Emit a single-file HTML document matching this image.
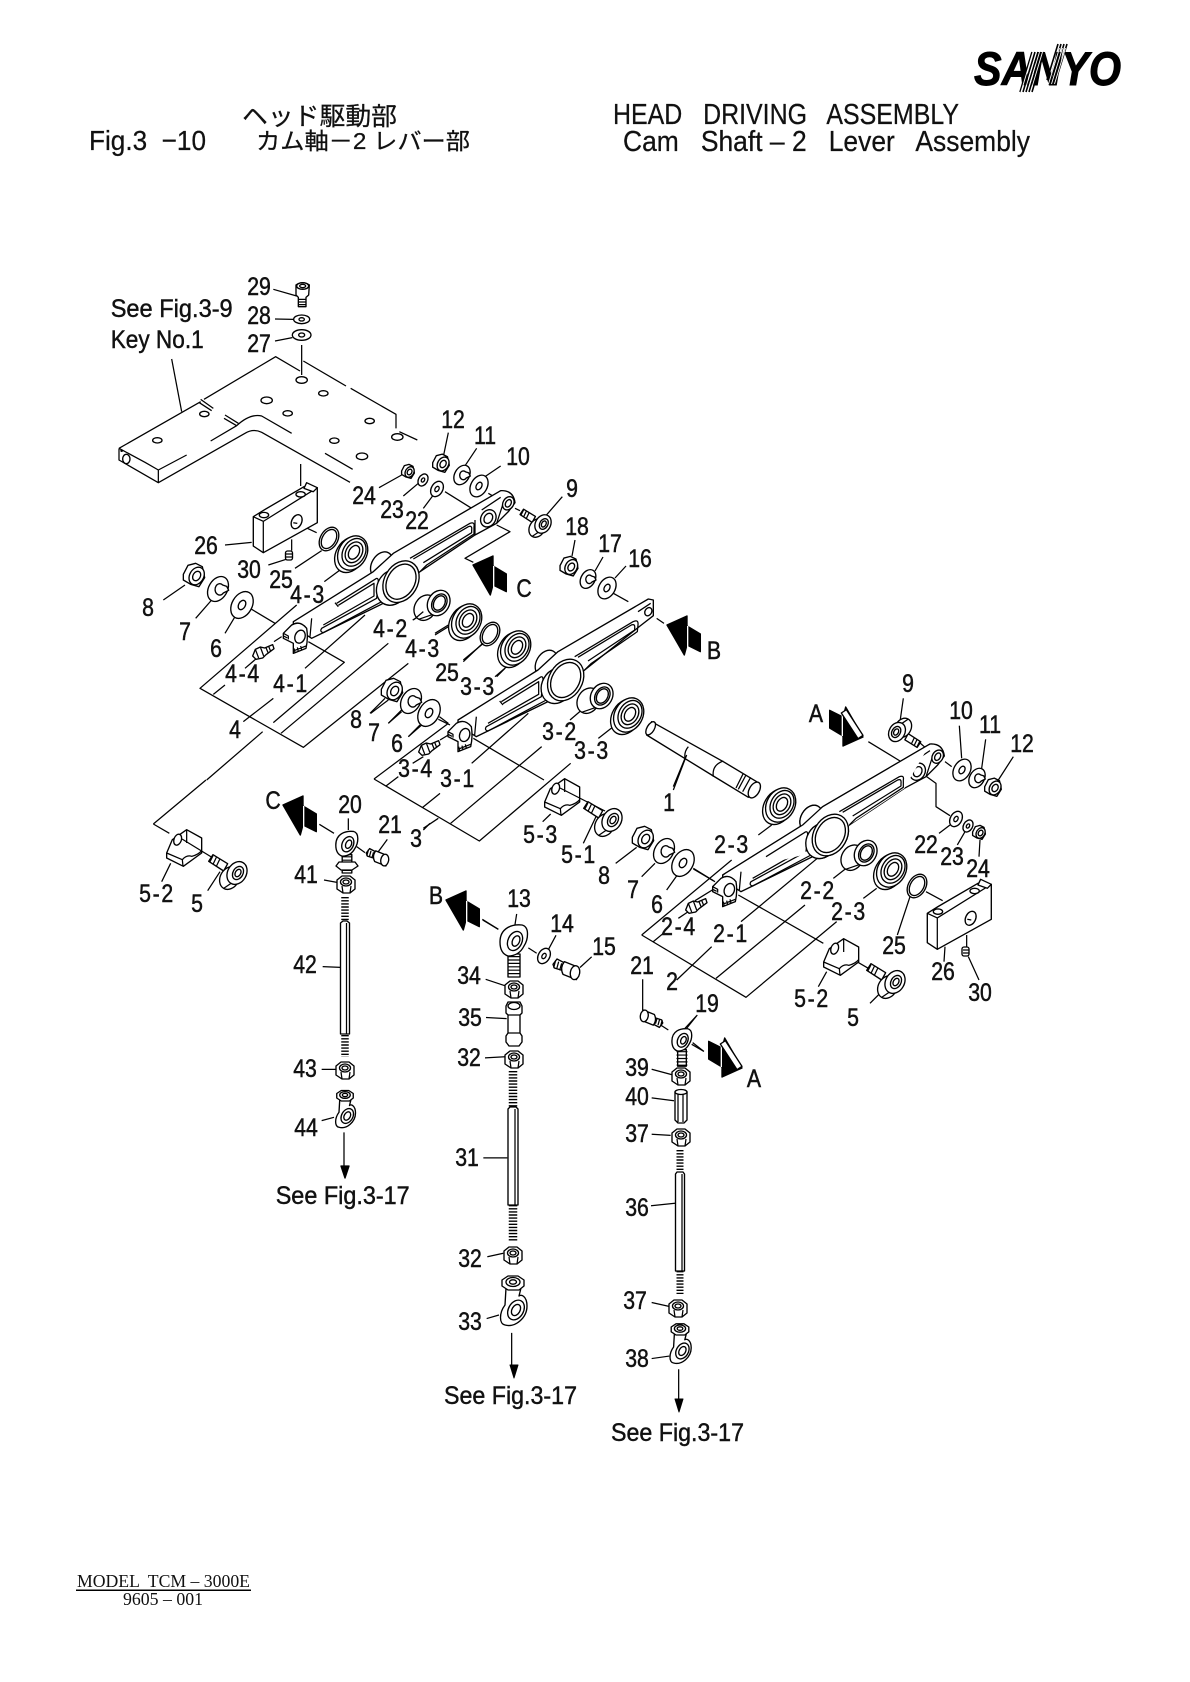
<!DOCTYPE html>
<html><head><meta charset="utf-8"><style>
html,body{margin:0;padding:0;background:#fff}
svg{display:block}
svg *{vector-effect:non-scaling-stroke}
.d{stroke:#000;stroke-width:1.35;fill:#fff;stroke-linejoin:round}
.l{stroke:#000;stroke-width:1.25;fill:none}
.t text{font-family:"Liberation Sans",sans-serif;font-size:25px;text-anchor:middle;fill:#111;stroke:#111;stroke-width:.45}
.t text.y{letter-spacing:2px}
.h text{font-family:"Liberation Sans","Noto Sans CJK JP",sans-serif;fill:#111;white-space:pre;stroke:#111;stroke-width:.25}
.s text{font-family:"Liberation Sans",sans-serif;font-size:25px;fill:#111;white-space:pre;stroke:#111;stroke-width:.45}
.f text{font-family:"Liberation Serif",serif;font-size:18px;fill:#111;white-space:pre}
</style></head><body>
<svg width="1190" height="1682" viewBox="0 0 1190 1682" xmlns="http://www.w3.org/2000/svg">
<defs>
<g id="w"><ellipse rx="30" ry="43" transform="rotate(30)"/><ellipse rx="10" ry="15" transform="rotate(30)"/></g>
<g id="r"><ellipse rx="26" ry="38" transform="rotate(30)"/><ellipse rx="20" ry="31" transform="rotate(30)"/></g>
<g id="c"><ellipse rx="28" ry="40" transform="rotate(30)"/><path d="M14,-12 A14,17 0 1 0 16,12 L32,4 L26,-8 Z"/></g>
<g id="n"><path d="M-32,-5 L-18,-32 L5,-38 L25,-28 L32,5 L15,32 L-10,25 L-32,12 Z"/><ellipse cx="8" rx="21" ry="28" transform="rotate(30 8 0)"/><ellipse cx="8" rx="11" ry="15" transform="rotate(30 8 0)"/></g>
<g id="b"><ellipse cx="-6" cy="5" rx="42" ry="57" transform="rotate(30 -6 5)"/><ellipse cx="2" rx="42" ry="54" transform="rotate(30 2 0)"/><ellipse cx="6" cy="-2" rx="33" ry="44" transform="rotate(30 6 -2)"/><ellipse cx="6" cy="-2" rx="24" ry="33" transform="rotate(30 6 -2)"/><ellipse cx="6" cy="-2" rx="15" ry="22" transform="rotate(30 6 -2)"/></g>
<g id="u"><ellipse cx="-26" cy="14" rx="32" ry="40" transform="rotate(30 -26 14)"/><path d="M34,-35 L-6,-21 L-46,49 L-6,35 Z" stroke="none"/><path d="M34,-35 L-6,-21 M-6,35 L-46,49" class="l"/><ellipse cx="14" rx="32" ry="40" transform="rotate(30 14 0)"/><ellipse cx="16" rx="21" ry="29" transform="rotate(30 16 0)"/><ellipse cx="16" rx="16" ry="23" transform="rotate(30 16 0)"/></g>
<g id="cf"><path d="M-85,-35 L-72,-55 L-28,-28 L-40,-6 Z"/><path d="M-72,-52 L-82,-32 M-62,-47 L-72,-26 M-52,-41 L-62,-20" class="l"/><ellipse cx="-22" cy="15" rx="28" ry="36" transform="rotate(30 -22 15)"/><path d="M18,-31 L-4,-16 L-40,46 L-18,31 Z" stroke="none"/><path d="M18,-31 L-4,-16 M-18,31 L-40,46" class="l"/><ellipse rx="28" ry="36" transform="rotate(30)"/><ellipse cx="3" rx="15" ry="21" transform="rotate(30 3 0)"/><ellipse cx="3" rx="8" ry="12" transform="rotate(30 3 0)"/></g>
<g id="bk"><path d="M-55,15 L-38,-25 L5,-55 L50,-30 L50,15 L-5,55 L-55,30 Z"/><path d="M-55,15 L-8,35 L-6,55 M-8,35 Q5,20 20,25 Q40,20 50,8 M5,-55 L5,-15" class="l"/><ellipse cx="-22" cy="-25" rx="11" ry="17" transform="rotate(20 -22 -25)"/></g>
<g id="gf"><path d="M-28,12 L-20,-8 L-5,-15 L8,-12 L32,-22 L36,-10 L12,8 L2,18 L-18,22 Z"/><path d="M12,-13 L18,2 M20,-17 L26,-2 M-20,-8 L-10,18 M-5,-15 L5,12" class="l"/></g>
<g id="bt"><path d="M-42,-14 L-30,-30 L-5,-17 L-12,5 L-38,-3 Z"/><path d="M-34,-26 L-40,-4 M-25,-22 L-31,0 M-16,-17 L-22,4" class="l"/><path d="M-8,-22 L22,-10 Q42,10 28,32 L-12,16 Q-22,-4 -8,-22 Z"/><ellipse cx="24" cy="11" rx="14" ry="21" transform="rotate(10 24 11)"/></g>
<g id="ah"><path d="M0,0 L60,-27 L60,3 L100,27 L100,80 L60,60 L52,90 Z" fill="#000" stroke="#000"/><path d="M62,3 L62,72" stroke="#fff" fill="none"/></g>
<g id="bl"><path d="M0,0 L32,-20 L152,-90 L192,-87 L192,18 L30,108 L0,88 Z"/><path d="M30,14 L30,108 M0,0 L30,14 L192,-87" class="l"/><path d="M152,-85 L160,-102 L192,-87 L180,-75 Z"/><ellipse cx="32" cy="-5" rx="14" ry="8"/><ellipse cx="142" cy="-67" rx="14" ry="8"/><ellipse cx="130" cy="15" rx="15" ry="22" transform="rotate(25 130 15)"/><path d="M120,18 L132,20" class="l"/></g>
<g id="hn"><path d="M-9,-4 L-9,5 L-3,9 L4,9 L9,5 L9,-4 L4,-8 L-4,-8 Z"/><ellipse cy="-2" rx="5.5" ry="4"/><ellipse cy="-2" rx="3" ry="2"/><path d="M-3,9 L-4,2 M4,9 L5,2" class="l"/></g>
<g id="ru"><path d="M-6,12 H6 V35 H-6 Z"/><path d="M0,14 V34" style="stroke-width:11;stroke-dasharray:1.2 2.2" fill="none"/><path d="M-14,0 C-14,-14 -2,-18 8,-17 C16,-15 14,-2 10,4 C6,12 0,14 -6,14 C-12,12 -14,6 -14,0Z"/><ellipse cx="1" cy="-1" rx="7" ry="10" transform="rotate(25 1 -1)"/><ellipse cx="2" cy="-1" rx="3.5" ry="5.5" transform="rotate(25 2 -1)"/></g>
<g id="rl"><path d="M-7,-22 L-8,-5 C-14,3 -14,14 -8,15 C2,18 14,8 14,-4 C14,-14 8,-16 6,-14 L8,-22 Z"/><path d="M-11,-30 L-11,-24 L-5,-20 L6,-20 L11,-24 L11,-30 L5,-34 L-5,-34 Z"/><ellipse cy="-28" rx="7" ry="4.5"/><ellipse cy="-28" rx="3.5" ry="2.2"/><ellipse cx="3" rx="7.5" ry="10.5" transform="rotate(30 3 0)"/><ellipse cx="3" rx="4" ry="6" transform="rotate(30 3 0)"/></g>
<g id="ll">
<path d="M610,1120 L635,1095 Q660,1080 680,1105 Q685,1135 678,1165 L640,1180 L640,1150 L610,1135 Z"/>
<ellipse cx="660" cy="1130" rx="15" ry="20" transform="rotate(20 660 1130)"/>
<path d="M695,1075 L690,1130 M770,1030 L885,958 Q895,950 895,965 L890,1015 L725,1105 Q718,1115 730,1118 L905,1025 M765,1028 L775,1040 M775,1036 L882,970 L882,1008 L730,1095 M642,1172 L678,1158 M645,1178 L642,1165 M655,1175 L652,1162 M665,1170 L662,1158" class="l"/>
<path d="M610,1120 L625,1128 L625,1138 M610,1128 L622,1134" class="l"/>
</g>
<g id="l4">
<ellipse cx="905" cy="915" rx="30" ry="42" transform="rotate(30 905 915)"/>
<path d="M640,1085 L880,935 L940,880 L1262,692 Q1300,690 1305,728 L1285,755 L1250,790 L1185,825 L1020,935 L920,1025 L695,1135 L640,1100 Z" />
<path d="M885,938 L945,895 L935,930 Z" stroke="none"/>
<use href="#ll"/>
<path d="M990,895 L1170,790 Q1185,785 1182,800 L1182,822 L1040,915 L1020,935 M1000,897 L1165,800 Q1177,795 1175,810 L1175,818 L1030,908 M1185,780 L1185,825 M1268,735 L1250,790 M1205,750 L1262,712" class="l"/>
<ellipse cx="938" cy="982" rx="46" ry="56" transform="rotate(30 938 982)"/>
<ellipse cx="963" cy="965" rx="50" ry="66" transform="rotate(30 963 965)"/>
<ellipse cx="963" cy="965" rx="41" ry="56" transform="rotate(30 963 965)"/>
<ellipse cx="1285" cy="730" rx="16" ry="21" transform="rotate(30 1285 730)"/>
<ellipse cx="1285" cy="730" rx="8" ry="12" transform="rotate(30 1285 730)"/>
<ellipse cx="1225" cy="775" rx="22" ry="27" transform="rotate(30 1225 775)"/>
<ellipse cx="1225" cy="775" rx="12" ry="16" transform="rotate(30 1225 775)"/>
</g>
<g id="l3">
<ellipse cx="905" cy="915" rx="30" ry="42" transform="rotate(30 905 915)"/>
<path d="M640,1085 L880,935 L940,880 L1211,722 L1226,725 L1226,772 L1190,800 L1020,935 L920,1025 L695,1135 L640,1100 Z"/>
<path d="M885,938 L945,895 L935,930 Z" stroke="none"/>
<use href="#ll"/>
<path d="M990,895 L1165,790 Q1182,782 1180,800 L1178,820 L1040,915 L1020,935 M1000,897 L1160,800 Q1172,795 1170,810 L1170,815 L1030,908 M1180,760 L1218,735" class="l"/>
<ellipse cx="938" cy="982" rx="46" ry="56" transform="rotate(30 938 982)"/>
<ellipse cx="963" cy="965" rx="50" ry="66" transform="rotate(30 963 965)"/>
<ellipse cx="963" cy="965" rx="41" ry="56" transform="rotate(30 963 965)"/>
<ellipse cx="1211" cy="760" rx="10" ry="13" transform="rotate(30 1211 760)"/>
</g>
</defs>
<rect width="1190" height="1682" fill="#fff"/>

<g class="d">
<!-- Plate + frame 1 -->
<g transform="translate(80 260) scale(.33333)">
<path d="M117,565 L362,425 L587,290 L660,333 M660,333 L1012,540 L818,628 L500,517 L235,668 L117,600 Z" stroke="none"/>
<path d="M117,565 L362,425 M372,418 L587,290 L660,333 M958,515 L1012,540 M117,565 L117,600 L235,668 L235,630 L195,607 M117,565 L197,608 M235,668 L495,520 Q520,505 545,517 L810,667 M235,630 L320,585 M392,543 L470,497 Q510,460 545,468 L635,520 M735,580 L818,628 M362,418 L400,445 M358,428 L395,452 M435,465 L475,490 M432,475 L470,497" class="l"/>
<ellipse cx="665" cy="360" rx="17" ry="10"/><ellipse cx="730" cy="400" rx="14" ry="8"/><ellipse cx="560" cy="421" rx="17" ry="10"/><ellipse cx="623" cy="460" rx="14" ry="8"/><ellipse cx="373" cy="462" rx="14" ry="8"/><ellipse cx="232" cy="541" rx="14" ry="8"/><ellipse cx="869" cy="483" rx="14" ry="8"/><ellipse cx="952" cy="531" rx="17" ry="10"/><ellipse cx="763" cy="542" rx="14" ry="8"/><ellipse cx="846" cy="589" rx="17" ry="10"/><ellipse cx="139" cy="597" rx="11" ry="14"/><circle cx="125" cy="572" r="2"/>
<path d="M648,75 Q668,62 688,75 L686,105 L678,112 L678,140 L655,140 L655,112 L648,105 Z"/><ellipse cx="668" cy="78" rx="18" ry="10"/><ellipse cx="668" cy="78" rx="9" ry="5"/><path d="M656,118 H678 M656,126 H678 M656,134 H678" class="l"/>
<ellipse cx="665" cy="178" rx="24" ry="13"/><ellipse cx="665" cy="178" rx="8" ry="5"/>
<ellipse cx="665" cy="225" rx="28" ry="16"/><ellipse cx="665" cy="225" rx="9" ry="6"/>
<path d="M275,297 L305,455 M580,88 L650,108 M585,177 L640,178 M585,243 L637,233 M665,255 V345 M670,303 L798,378 M812,385 L948,463 V505 M662,612 V678 M1105,518 L1090,590 M1190,565 L1150,625 M1262,618 L1215,650 M1447,710 L1395,770 M897,683 L965,645 M970,708 L1015,670 M1030,745 L1060,705 M1095,695 L1175,745 M1225,700 L1250,715 M1305,745 L1320,752 M1250,795 L1290,815 L1155,895 L1180,907 M435,855 L515,847 M565,915 L628,895 M650,790 L710,818 M635,838 V872 M645,925 L725,872 M733,965 L780,930 M250,1020 L315,975 M347,1075 L395,1020 M435,1120 L465,1070 M515,1048 L585,1090 M650,1035 L360,1285 L670,1462 L985,1210 M400,1303 L435,1275 M495,1225 L530,1195 M490,1385 L580,1315 M675,1225 L855,1065 M685,1145 L793,1207 L580,1388 M603,1420 L925,1150 M998,1080 L1025,1065 M1065,1120 L1105,1095 M1150,1205 L1208,1150 M1250,1250 L1275,1225 M872,1360 L925,1320 M925,1390 L965,1355 M985,1430 L1020,1395 M1075,1378 L1110,1395 M380,1560 L548,1415 M582,1145 L605,1130" class="l"/>
<use href="#l4"/>
</g>
<use href="#bl" transform="translate(253.3 516.7) scale(.33333)"/>
<rect x="285.500" y="551" width="7" height="9" rx="2"/><path d="M286,554 H292 M286,557 H292" class="l"/>
<use href="#r" transform="translate(329 539) scale(.33333)"/>
<use href="#b" transform="translate(352 553) scale(.33333)"/>
<use href="#n" transform="translate(194 576) scale(.33333)"/>
<use href="#c" transform="translate(218 589) scale(.33333)"/>
<use href="#w" transform="translate(242 605) scale(.33333)"/>
<use href="#gf" transform="translate(262 652) scale(.33333)"/>
<use href="#u" transform="translate(434 603) scale(.33333)"/>
<use href="#b" transform="translate(466 621) scale(.33333)"/>
<use href="#r" transform="translate(490 634) scale(.33333)"/>
<use href="#b" transform="translate(515 648) scale(.33333)"/>
<use href="#n" transform="translate(392 691) scale(.33333)"/>
<use href="#c" transform="translate(411 701) scale(.33333)"/>
<use href="#w" transform="translate(429 713) scale(.33333)"/>
<use href="#n" transform="translate(441 464) scale(.26)"/>
<use href="#n" transform="translate(408 472) scale(.2)"/>
<use href="#c" transform="translate(462 475) scale(.26)"/>
<use href="#w" transform="translate(479 486) scale(.27)"/>
<use href="#w" transform="translate(423 480) scale(.15)"/>
<use href="#w" transform="translate(437 489) scale(.19)"/>
<use href="#cf" transform="translate(543 524) scale(.27)"/>
<use href="#n" transform="translate(569 567) scale(.28)"/>
<use href="#c" transform="translate(588 579) scale(.25)"/>
<use href="#w" transform="translate(607 588) scale(.27)"/>
<path d="M575,540 L572,556 M603,557 L595,571 M626,566 L615,578" class="l"/>
<use href="#ah" transform="translate(473 565) scale(.33333)"/>

<!-- Frame 2: lever 3 -->
<g transform="translate(360 560) scale(.33333)">
<path d="M42,657 L265,490 M42,657 L358,843 L632,610 M78,678 L115,650 M188,742 L240,700 M272,790 L545,560 M340,535 L552,660 M335,610 L505,460 M158,610 L190,590 M30,460 L75,415 M85,490 L125,450 M145,530 L185,495 M238,470 L265,490 M405,350 L440,320 M310,300 L370,250 M225,225 L265,200 M160,180 L190,155 M630,480 L665,450 M715,535 L760,500 M190,805 L235,775 M760,100 L805,125 M890,175 L912,190 M548,785 L572,762 M670,850 L708,770 M767,910 L830,862 M845,950 L885,910 M920,990 L952,945 M1000,925 L1060,962 M975,595 L940,680 M368,1080 L415,1108 M240,540 L265,525" class="l"/>
<g transform="translate(-346 -605)"><use href="#l3"/></g>
<path d="M860,525 L875,485 L1090,605 L1190,665 L1165,712 L1060,648 Z"/>
<ellipse cx="872" cy="505" rx="11" ry="22" transform="rotate(30 872 505)"/>
<path d="M1090,603 Q1055,615 1060,650 M985,560 Q972,575 975,595 M1158,645 L1135,688 M1172,652 L1148,695 M1150,640 L1128,684" class="l"/>
<ellipse cx="1183" cy="690" rx="15" ry="26" transform="rotate(30 1183 690)"/>
</g>
<use href="#u" transform="translate(597 696) scale(.33333)"/>
<use href="#b" transform="translate(628 715) scale(.33333)"/>
<use href="#gf" transform="translate(428 748) scale(.33333)"/>
<use href="#bk" transform="translate(563 797) scale(.33333)"/>
<path d="M560,788 L605,811" class="l"/>
<use href="#cf" transform="translate(612 820) scale(.33333)"/>
<use href="#n" transform="translate(643 839) scale(.33333)"/>
<use href="#c" transform="translate(664 851) scale(.33333)"/>
<use href="#w" transform="translate(683 863) scale(.33333)"/>
<use href="#ah" transform="translate(667 625) scale(.33333)"/>
<use href="#ah" transform="translate(446 900) scale(.33333)"/>

<!-- Frame 3: lever 2 -->
<g transform="translate(640 660) scale(.33333)">
<path d="M100,390 L140,285 M355,525 L395,495 M5,825 L275,600 M5,825 L318,1012 L590,785 M40,845 L70,820 M110,960 L215,860 M228,955 L495,735 M295,705 L550,850 M303,785 L550,580 M580,655 L625,620 M670,715 L710,685 M115,775 L145,755 M165,722 L225,685 M160,627 L225,665 M685,245 L780,303 M790,115 L780,185 M830,240 L855,262 M958,197 L965,295 M915,305 L935,320 M1037,238 L1025,325 M1120,290 L1075,360 M897,520 L930,495 M952,555 L975,515 M1017,590 L1020,540 M860,350 L888,370 V440 L930,467 M772,825 L810,710 M858,695 L908,722 M915,860 L912,905 M1017,960 L985,890 M980,825 V860 M535,980 L560,935 M690,1030 L730,990 M172,1065 L135,1105 M158,1148 L190,1173 M590,870 L685,925" class="l"/>
<g transform="translate(-392 -440)"><use href="#l4"/></g>
</g>
<use href="#b" transform="translate(780 805) scale(.33333)"/>
<g transform="translate(640 660) scale(.33333)"><g transform="translate(-392 -440)"><ellipse cx="905" cy="915" rx="30" ry="42" transform="rotate(30 905 915)"/><path d="M640,1085 L880,935 L940,880 L1262,692 L1185,825 L1020,935 L900,1020 Z" stroke="none"/><path d="M640,1085 L880,935 M880,935 L940,880 M940,880 L1262,692" class="l"/><path d="M990,895 L1170,790 Q1185,785 1182,800 L1182,822 L1040,915 L1020,935 M1000,897 L1165,800 Q1177,795 1175,810 L1175,818 L1030,908 M770,1030 L885,958 Q895,950 895,965 L890,1015" class="l"/><ellipse cx="938" cy="982" rx="46" ry="56" transform="rotate(30 938 982)"/><ellipse cx="963" cy="965" rx="50" ry="66" transform="rotate(30 963 965)"/><ellipse cx="963" cy="965" rx="41" ry="56" transform="rotate(30 963 965)"/></g></g>
<use href="#u" transform="translate(861 853) scale(.33333)"/>
<use href="#b" transform="translate(891 870) scale(.33333)"/>
<use href="#r" transform="translate(917 886) scale(.33333)"/>
<use href="#bl" transform="translate(927.3 913.3) scale(.33333)"/>
<rect x="962" y="947" width="7" height="9" rx="2"/><path d="M963,950 H969 M963,953 H969" class="l"/>
<use href="#gf" transform="translate(695 906) scale(.33333)"/>
<use href="#bk" transform="translate(842 957) scale(.33333)"/>
<use href="#cf" transform="translate(895 982) scale(.33333)"/>
<use href="#cf" transform="translate(897 732) rotate(180) scale(.28)"/>
<use href="#w" transform="translate(962 770) scale(.27)"/>
<use href="#c" transform="translate(977 778) scale(.26)"/>
<use href="#n" transform="translate(993 788) scale(.26)"/>
<use href="#w" transform="translate(956 819) scale(.19)"/>
<use href="#w" transform="translate(968 826) scale(.15)"/>
<use href="#n" transform="translate(979 833) scale(.2)"/>
<g transform="translate(863 737) scale(-.33333)"><use href="#ah"/><path d="M0,5 L50,82 L65,72 L15,-5 Z"/></g>
<g transform="translate(742 1068) scale(-.33333)"><use href="#ah"/><path d="M0,5 L50,82 L65,72 L15,-5 Z"/></g>

<!-- Frame 4 -->
<g transform="translate(130 780) scale(.33333)">
<path d="M70,132 L228,0 M70,132 L118,160 M95,305 L122,250 M233,332 L270,275 M568,133 L612,160 M655,115 V150 M772,178 L745,215 M680,200 L705,218 M582,300 L625,308 M578,560 L632,562 M575,868 L620,868 M575,1022 L612,1012 M880,150 L900,130 M642,1057 V1160" class="l"/>
</g>
<path d="M341,1166 H349 L345,1178 Z" fill="#000"/>
<use href="#bk" transform="translate(185 848) scale(.33333)"/>
<path d="M182,839 L213,858" class="l"/>
<use href="#cf" transform="translate(237 873) scale(.33333)"/>
<use href="#ah" transform="translate(283 805) scale(.33333)"/>
<use href="#ru" transform="translate(347 845) scale(.8)"/>
<path d="M339,862 L355,862 L358,866 L352,870 L341,870 L336,866 Z"/>
<use href="#bt" transform="translate(378 857) scale(.28)"/>
<use href="#hn" transform="translate(346 884)"/>
<use href="#hn" transform="translate(345 1070)"/>
<path d="M345 897 V922 M345 1035 V1057" class="l" style="stroke-width:7.500;stroke-dasharray:1.400 1.700"/>
<path d="M340.500 923 L343,921 H347 L349.500 923 V1034 H340.500 Z"/><path d="M346.500 923 V1034" class="l"/>
<use href="#rl" transform="translate(345 1116) scale(.75)"/>

<!-- Frame 5 -->
<g transform="translate(420 880) scale(.33333 .35714)">
<path d="M187,110 L235,138 M290,95 L285,125 M325,190 L350,205 M408,155 L385,195 M515,215 L480,245 M197,278 L258,297 M198,385 L260,388 M195,498 L255,495 M190,778 L262,778 M202,1055 L250,1045 M200,1228 L237,1218 M668,278 V365 M720,405 L745,420 M830,380 L800,415 M815,460 L852,480 M695,530 L755,545 M695,610 L762,618 M695,712 L752,715 M693,912 L765,905 M695,1183 L752,1195 M695,1340 L748,1333 M275,1268 V1360 M776,1370 V1465" class="l"/>
</g>
<path d="M510,1365 H518 L514,1378 Z" fill="#000" stroke="#000" stroke-width="1"/>
<path d="M675,1399 H683 L679,1412 Z" fill="#000" stroke="#000" stroke-width="1"/>
<use href="#ru" transform="translate(514 942)"/>
<use href="#w" transform="translate(544 956) scale(.19)"/>
<use href="#bt" transform="translate(567 969) scale(.33333)"/>
<use href="#hn" transform="translate(514 989)"/>
<path d="M506,1006 L508,1002 H520 L522,1006 V1013 L520,1015 V1033 L522,1036 V1042 L519,1046 H509 L506,1042 V1036 L508,1033 V1015 L506,1013 Z"/><ellipse cx="514" cy="1006" rx="6" ry="3.500"/><path d="M508,1015 H520 M508,1033 H520" class="l"/>
<use href="#hn" transform="translate(514 1059)"/>
<path d="M513 1071 V1108 M513 1205 V1241" class="l" style="stroke-width:8.500;stroke-dasharray:1.400 1.700"/>
<path d="M508,1109 L510,1107 H516 L518,1109 V1205 H508 Z"/><path d="M515,1109 V1205" class="l"/>
<use href="#hn" transform="translate(513 1255)"/>
<use href="#rl" transform="translate(513 1310)"/>
<use href="#bt" transform="translate(651 1019) scale(-.28)"/>
<use href="#ru" transform="translate(682 1041) scale(.72)"/>
<use href="#hn" transform="translate(681 1076)"/>
<path d="M675,1092 L678,1090 H685 L687,1092 V1120 L684,1123 H678 L675,1120 Z"/><ellipse cx="681" cy="1092" rx="6" ry="2.500"/><path d="M678,1094 V1122 M683,1094 V1122" class="l"/>
<use href="#hn" transform="translate(681 1137)"/>
<path d="M680 1150 V1173 M680 1271 V1294" class="l" style="stroke-width:7;stroke-dasharray:1.400 1.700"/>
<path d="M675.500,1174 L677,1172 H683 L684.500,1174 V1271 H675.500 Z"/><path d="M682,1174 V1271" class="l"/>
<use href="#hn" transform="translate(678 1308)"/>
<use href="#rl" transform="translate(680 1351) scale(.8)"/>
</g>

<!-- Part labels -->
<g class="t">
<text transform="translate(259 295) scale(.85 1)">29</text>
<text transform="translate(259 324) scale(.85 1)">28</text>
<text transform="translate(259 352) scale(.85 1)">27</text>
<text transform="translate(453 428) scale(.85 1)">12</text>
<text transform="translate(485 444) scale(.85 1)">11</text>
<text transform="translate(518 465) scale(.85 1)">10</text>
<text transform="translate(572 497) scale(.85 1)">9</text>
<text transform="translate(364 504) scale(.85 1)">24</text>
<text transform="translate(392 518) scale(.85 1)">23</text>
<text transform="translate(417 529) scale(.85 1)">22</text>
<text transform="translate(206 554) scale(.85 1)">26</text>
<text transform="translate(249 578) scale(.85 1)">30</text>
<text transform="translate(281 588) scale(.85 1)">25</text>
<text class="y" transform="translate(308 603) scale(.85 1)">4-3</text>
<text transform="translate(148 616) scale(.85 1)">8</text>
<text transform="translate(185 640) scale(.85 1)">7</text>
<text transform="translate(216 657) scale(.85 1)">6</text>
<text class="y" transform="translate(243 682) scale(.85 1)">4-4</text>
<text class="y" transform="translate(291 692) scale(.85 1)">4-1</text>
<text transform="translate(235 738) scale(.85 1)">4</text>
<text class="y" transform="translate(391 637) scale(.85 1)">4-2</text>
<text class="y" transform="translate(423 657) scale(.85 1)">4-3</text>
<text transform="translate(447 681) scale(.85 1)">25</text>
<text class="y" transform="translate(478 695) scale(.85 1)">3-3</text>
<text transform="translate(356 728) scale(.85 1)">8</text>
<text transform="translate(374 741) scale(.85 1)">7</text>
<text transform="translate(397 752) scale(.85 1)">6</text>
<text class="y" transform="translate(416 777) scale(.85 1)">3-4</text>
<text class="y" transform="translate(458 787) scale(.85 1)">3-1</text>
<text transform="translate(416 847) scale(.85 1)">3</text>
<text transform="translate(524 597) scale(.85 1)">C</text>
<text transform="translate(577 535) scale(.85 1)">18</text>
<text transform="translate(610 552) scale(.85 1)">17</text>
<text transform="translate(640 567) scale(.85 1)">16</text>
<text transform="translate(714 659) scale(.85 1)">B</text>
<text transform="translate(816 722) scale(.85 1)">A</text>
<text class="y" transform="translate(560 740) scale(.85 1)">3-2</text>
<text class="y" transform="translate(592 759) scale(.85 1)">3-3</text>
<text transform="translate(669 811) scale(.85 1)">1</text>
<text transform="translate(390 833) scale(.85 1)">21</text>
<text class="y" transform="translate(541 843) scale(.85 1)">5-3</text>
<text class="y" transform="translate(579 863) scale(.85 1)">5-1</text>
<text transform="translate(604 884) scale(.85 1)">8</text>
<text transform="translate(633 898) scale(.85 1)">7</text>
<text transform="translate(657 913) scale(.85 1)">6</text>
<text class="y" transform="translate(732 853) scale(.85 1)">2-3</text>
<text class="y" transform="translate(818 899) scale(.85 1)">2-2</text>
<text class="y" transform="translate(849 920) scale(.85 1)">2-3</text>
<text class="y" transform="translate(679 935) scale(.85 1)">2-4</text>
<text class="y" transform="translate(731 942) scale(.85 1)">2-1</text>
<text transform="translate(672 990) scale(.85 1)">2</text>
<text transform="translate(642 974) scale(.85 1)">21</text>
<text transform="translate(519 907) scale(.85 1)">13</text>
<text transform="translate(562 932) scale(.85 1)">14</text>
<text transform="translate(604 955) scale(.85 1)">15</text>
<text transform="translate(469 984) scale(.85 1)">34</text>
<text transform="translate(436 904) scale(.85 1)">B</text>
<text transform="translate(908 692) scale(.85 1)">9</text>
<text transform="translate(961 719) scale(.85 1)">10</text>
<text transform="translate(990 733) scale(.85 1)">11</text>
<text transform="translate(1022 752) scale(.85 1)">12</text>
<text transform="translate(926 853) scale(.85 1)">22</text>
<text transform="translate(952 865) scale(.85 1)">23</text>
<text transform="translate(978 877) scale(.85 1)">24</text>
<text transform="translate(894 954) scale(.85 1)">25</text>
<text transform="translate(943 980) scale(.85 1)">26</text>
<text transform="translate(980 1001) scale(.85 1)">30</text>
<text class="y" transform="translate(812 1007) scale(.85 1)">5-2</text>
<text transform="translate(853 1026) scale(.85 1)">5</text>
<text transform="translate(707 1012) scale(.85 1)">19</text>
<text transform="translate(754 1087) scale(.85 1)">A</text>
<text transform="translate(273 809) scale(.85 1)">C</text>
<text transform="translate(350 813) scale(.85 1)">20</text>
<text class="y" transform="translate(157 902) scale(.85 1)">5-2</text>
<text transform="translate(197 912) scale(.85 1)">5</text>
<text transform="translate(306 883) scale(.85 1)">41</text>
<text transform="translate(305 973) scale(.85 1)">42</text>
<text transform="translate(305 1077) scale(.85 1)">43</text>
<text transform="translate(306 1136) scale(.85 1)">44</text>
<text transform="translate(470 1026) scale(.85 1)">35</text>
<text transform="translate(469 1066) scale(.85 1)">32</text>
<text transform="translate(467 1166) scale(.85 1)">31</text>
<text transform="translate(470 1267) scale(.85 1)">32</text>
<text transform="translate(470 1330) scale(.85 1)">33</text>
<text transform="translate(637 1076) scale(.85 1)">39</text>
<text transform="translate(637 1105) scale(.85 1)">40</text>
<text transform="translate(637 1142) scale(.85 1)">37</text>
<text transform="translate(637 1216) scale(.85 1)">36</text>
<text transform="translate(635 1309) scale(.85 1)">37</text>
<text transform="translate(637 1367) scale(.85 1)">38</text>
</g>
<g class="s">
<text x="110.700" y="317" textLength="122" lengthAdjust="spacingAndGlyphs">See Fig.3-9</text>
<text x="110.700" y="348" textLength="93" lengthAdjust="spacingAndGlyphs">Key No.1</text>
<text x="275.700" y="1204" textLength="134" lengthAdjust="spacingAndGlyphs">See Fig.3-17</text>
<text x="444" y="1404" textLength="133" lengthAdjust="spacingAndGlyphs">See Fig.3-17</text>
<text x="611" y="1441" textLength="133" lengthAdjust="spacingAndGlyphs">See Fig.3-17</text>
</g>

<!-- Header -->
<g class="h">
<text x="89" y="150" font-size="28" textLength="117" lengthAdjust="spacingAndGlyphs">Fig.3  −10</text>
<text x="242" y="125" font-size="25" textLength="155" lengthAdjust="spacingAndGlyphs">ヘッド駆動部</text>
<text x="256" y="149" font-size="23" textLength="214" lengthAdjust="spacingAndGlyphs">カム軸－2 レバー部</text>
<text x="613" y="124" font-size="29" textLength="346" lengthAdjust="spacingAndGlyphs">HEAD   DRIVING   ASSEMBLY</text>
<text x="623" y="151" font-size="29" textLength="407" lengthAdjust="spacingAndGlyphs">Cam   Shaft – 2   Lever   Assembly</text>
</g>
<text x="974" y="85" font-family="Liberation Sans, sans-serif" font-weight="bold" font-style="italic" font-size="47" textLength="147" lengthAdjust="spacingAndGlyphs" fill="#000" stroke="#000" stroke-width=".9">SANYO</text>
<path d="M1032,52 L1020,92 M1035,52 L1023,92 M1038,52 L1026,92 M1041,52 L1029,92 M1044,52 L1032,92 M1058,44 L1047,80 M1061,44 L1050,80 M1064,44 L1053,80 M1067,44 L1056,80" stroke="#000" stroke-width="1.600" fill="none"/>
<path d="M1033,52 L1021,92 M1036.500,52 L1024.500,92 M1039.500,52 L1027.500,92 M1042.500,52 L1030.500,92 M1059.500,48 L1048.500,84 M1062.500,48 L1051.500,84 M1065.500,48 L1054.500,84" stroke="#fff" stroke-width=".9" fill="none"/>

<!-- Footer -->
<g class="f">
<text x="77" y="1587" textLength="173" lengthAdjust="spacingAndGlyphs">MODEL  TCM – 3000E</text>
<text x="123" y="1605" textLength="80" lengthAdjust="spacingAndGlyphs">9605 – 001</text>
</g>
<rect x="76" y="1589.500" width="175" height="1.500" fill="#000"/>
</svg>
</body></html>
